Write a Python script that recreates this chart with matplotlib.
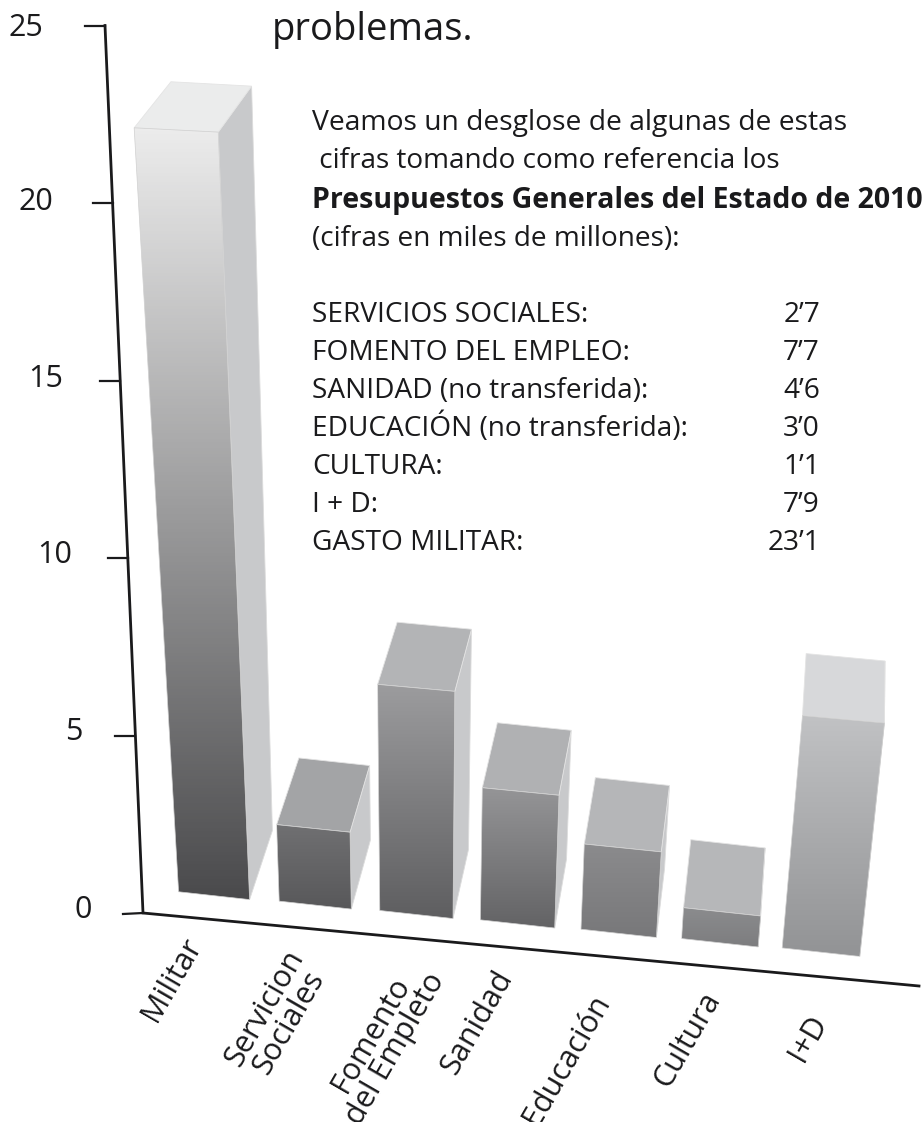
import numpy as np
import matplotlib
matplotlib.use("Agg")
import matplotlib.pyplot as plt
from matplotlib.colors import LinearSegmentedColormap
from matplotlib.patches import Polygon

plt.rcParams['font.family'] = ['Open Sans', 'DejaVu Sans']

# data
categories = ["Militar", "Servicion\nSociales", "Fomento\ndel Empleto", "Sanidad",
              "Educación", "Cultura", "I+D"]
values = [23.1, 2.7, 7.7, 4.6, 3.0, 1.1, 7.9]
y_ticks = [0, 5, 10, 15, 20, 25]
table_names = ["SERVICIOS SOCIALES:", "FOMENTO DEL EMPLEO:", "SANIDAD (no transferida):",
               "EDUCACIÓN (no transferida):", "CULTURA:", "I + D:", "GASTO MILITAR:"]
table_values = ["2’7", "7’7", "4’6", "3’0", "1’1", "7’9", "23’1"]

# greys per bar
front_top = ["#ececec", "#707072", "#9c9c9e", "#959597", "#8b8b8d", "#8b8c8e", "#c1c2c4"]
front_bottom = ["#4a4a4c", "#58585a", "#5e5e60", "#636365", "#78787a", "#7d7d7f", "#929395"]
top_face = ["#ebecec", "#a3a4a6", "#b3b4b6", "#b0b1b3", "#b5b6b8", "#b6b7b9", "#d7d8da"]
side_face = "#c8c9cb"

# tick label and category label places, by hand like the original
tick_label_x = [83, 74, 55, 46, 36, 26]
tick_label_dy = [-3, -3.5, -3, -2, -1, 2]
cat_label_xy = [(172, 980), (277, 1015), (383, 1042), (477, 1022), (567, 1060), (687, 1040), (808, 1038)]


def height(v):
    # bars grow a bit faster higher up, the picture has perspective
    return 27.8 * v / (1 - 0.0069 * v)


def corner(i, side, depth, v):
    # side 0 left / 1 right, depth 0 front / 1 back
    h = height(v) * (1 - 0.03 * depth)
    left = 178.6 + 100.6 * i
    x = left + side * (71 + 1.1 * i)
    y = 892 + 0.093 * (left - 181) + (0.11 - 0.000065 * h) * (x - left)
    x = x + depth * 0.036 * (883 - x)
    y = y - depth * 69
    x = x + depth * 5 * (h / 764) ** 2
    return x + (x - 420) * 0.000241 * h, y - h


def axis_y(v):
    return 913 - 35.5 * v


def axis_x(v):
    return 143 - 38 * v / 25


fig = plt.figure(figsize=(9.23, 11.22), dpi=100)
ax = fig.add_axes([0, 0, 1, 1])
ax.axis('off')

for i, v in enumerate(values):
    front = [corner(i, 0, 0, 0), corner(i, 1, 0, 0), corner(i, 1, 0, v), corner(i, 0, 0, v)]
    side = [corner(i, 1, 0, 0), corner(i, 1, 1, 0), corner(i, 1, 1, v), corner(i, 1, 0, v)]
    top = [corner(i, 0, 0, v), corner(i, 1, 0, v), corner(i, 1, 1, v), corner(i, 0, 1, v)]
    ax.add_patch(Polygon(side, fc=side_face, ec="#dcdcdc", lw=0.6, zorder=2))
    ax.add_patch(Polygon(top, fc=top_face[i], ec="#e4e4e4", lw=0.6, zorder=2))

    poly = Polygon(front, fc='none', ec="#d0d0d0", lw=0.5, zorder=4)
    ax.add_patch(poly)
    xs = [p[0] for p in front]
    ys = [p[1] for p in front]
    cmap = LinearSegmentedColormap.from_list("g", [front_top[i], front_bottom[i]])
    im = ax.imshow(np.linspace(0, 1, 256).reshape(-1, 1), cmap=cmap, aspect='auto',
                   extent=[min(xs), max(xs), max(ys), min(ys)], zorder=3)
    im.set_clip_path(poly)

# axes lines
ax.plot([axis_x(25), axis_x(0), 919], [axis_y(25), axis_y(0), 986], color="#1a1a1c", lw=2, zorder=5,
        solid_joinstyle='miter')
for t, lx, dy in zip(y_ticks, tick_label_x, tick_label_dy):
    ax.plot([axis_x(t) - 20, axis_x(t)], [axis_y(t) + (1 if t == 0 else 0), axis_y(t)],
            color="#1a1a1c", lw=1.6, zorder=5)
    ax.text(lx, axis_y(t) + dy, str(t), fontsize=22, ha='center', va='center', color="#1a1a1c")

for name, (lx, ly) in zip(categories, cat_label_xy):
    ax.text(lx, ly, name, fontsize=22, rotation=60, rotation_mode='anchor', ha='center', va='center',
            multialignment='center', linespacing=0.95, color="#1a1a1c")

# text block
ax.text(272, 40, "problemas.", fontsize=27.5, color="#1a1a1c", va='baseline')
intro = [("Veamos un desglose de algunas de estas", 312, 130, 'normal', 20.3),
         (" cifras tomando como referencia los", 312, 168, 'normal', 20.2),
         ("Presupuestos Generales del Estado de 2010", 312, 208, 'bold', 20.5),
         ("(cifras en miles de millones):", 312, 246, 'normal', 20.2)]
for txt, tx, ty, w, fs in intro:
    ax.text(tx, ty, txt, fontsize=fs, fontweight=w, color="#1a1a1c", va='baseline')
for k, (n, val) in enumerate(zip(table_names, table_values)):
    ty = 322 + 38 * k
    ax.text(312, ty, n, fontsize=20.2, color="#1a1a1c", va='baseline')
    ax.text(820, ty, val, fontsize=20.2, color="#1a1a1c", va='baseline', ha='right')

ax.set_xlim(0, 923)
ax.set_ylim(1122, 0)
fig.savefig("out.png", dpi=100)
